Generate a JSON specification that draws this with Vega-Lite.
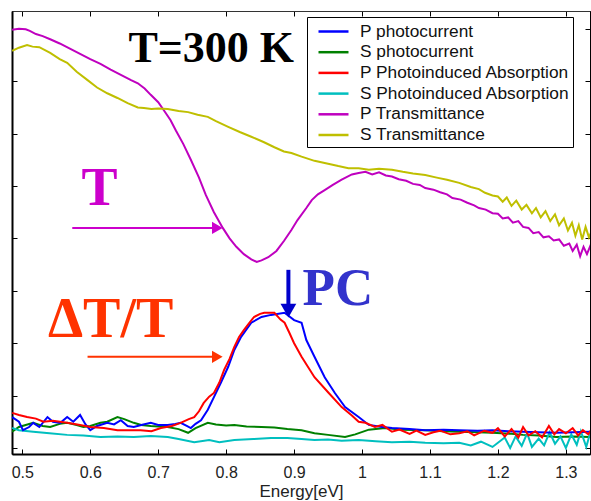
{
  "$schema": "https://vega.github.io/schema/vega-lite/v6.json",
  "width": 578,
  "height": 443,
  "autosize": {"type": "none"},
  "padding": {"left": 12, "top": 11, "right": 1, "bottom": 47},
  "background": "white",
  "config": {
    "font": "Liberation Sans",
    "view": {"stroke": "black", "strokeWidth": 1}
  },
  "datasets": {
    "curves": [
      {"s":"P Transmittance","E":0.485,"y":7.98},{"s":"P Transmittance","E":0.495,"y":8.0},{"s":"P Transmittance","E":0.505,"y":7.99},{"s":"P Transmittance","E":0.511,"y":7.96},{"s":"P Transmittance","E":0.52,"y":7.9},{"s":"P Transmittance","E":0.53,"y":7.86},{"s":"P Transmittance","E":0.541,"y":7.8},{"s":"P Transmittance","E":0.555,"y":7.72},{"s":"P Transmittance","E":0.57,"y":7.62},{"s":"P Transmittance","E":0.585,"y":7.52},{"s":"P Transmittance","E":0.6,"y":7.42},{"s":"P Transmittance","E":0.615,"y":7.33},{"s":"P Transmittance","E":0.63,"y":7.22},{"s":"P Transmittance","E":0.645,"y":7.12},{"s":"P Transmittance","E":0.66,"y":7.02},{"s":"P Transmittance","E":0.67,"y":6.96},{"s":"P Transmittance","E":0.68,"y":6.86},{"s":"P Transmittance","E":0.689,"y":6.74},{"s":"P Transmittance","E":0.7,"y":6.6},{"s":"P Transmittance","E":0.708,"y":6.45},{"s":"P Transmittance","E":0.718,"y":6.26},{"s":"P Transmittance","E":0.726,"y":6.06},{"s":"P Transmittance","E":0.737,"y":5.8},{"s":"P Transmittance","E":0.748,"y":5.5},{"s":"P Transmittance","E":0.76,"y":5.16},{"s":"P Transmittance","E":0.77,"y":4.83},{"s":"P Transmittance","E":0.782,"y":4.5},{"s":"P Transmittance","E":0.795,"y":4.2},{"s":"P Transmittance","E":0.805,"y":4.0},{"s":"P Transmittance","E":0.815,"y":3.84},{"s":"P Transmittance","E":0.826,"y":3.7},{"s":"P Transmittance","E":0.837,"y":3.6},{"s":"P Transmittance","E":0.845,"y":3.55},{"s":"P Transmittance","E":0.852,"y":3.58},{"s":"P Transmittance","E":0.862,"y":3.64},{"s":"P Transmittance","E":0.874,"y":3.76},{"s":"P Transmittance","E":0.885,"y":3.95},{"s":"P Transmittance","E":0.896,"y":4.16},{"s":"P Transmittance","E":0.905,"y":4.35},{"s":"P Transmittance","E":0.918,"y":4.58},{"s":"P Transmittance","E":0.926,"y":4.73},{"s":"P Transmittance","E":0.935,"y":4.84},{"s":"P Transmittance","E":0.945,"y":4.92},{"s":"P Transmittance","E":0.957,"y":5.02},{"s":"P Transmittance","E":0.97,"y":5.12},{"s":"P Transmittance","E":0.985,"y":5.22},{"s":"P Transmittance","E":0.995,"y":5.25},{"s":"P Transmittance","E":1.005,"y":5.27},{"s":"P Transmittance","E":1.015,"y":5.22},{"s":"P Transmittance","E":1.025,"y":5.26},{"s":"P Transmittance","E":1.035,"y":5.2},{"s":"P Transmittance","E":1.044,"y":5.18},{"s":"P Transmittance","E":1.054,"y":5.13},{"s":"P Transmittance","E":1.065,"y":5.1},{"s":"P Transmittance","E":1.075,"y":5.04},{"s":"P Transmittance","E":1.085,"y":5.02},{"s":"P Transmittance","E":1.093,"y":4.96},{"s":"P Transmittance","E":1.105,"y":4.93},{"s":"P Transmittance","E":1.115,"y":4.88},{"s":"P Transmittance","E":1.125,"y":4.84},{"s":"P Transmittance","E":1.133,"y":4.77},{"s":"P Transmittance","E":1.145,"y":4.74},{"s":"P Transmittance","E":1.155,"y":4.68},{"s":"P Transmittance","E":1.165,"y":4.63},{"s":"P Transmittance","E":1.172,"y":4.58},{"s":"P Transmittance","E":1.182,"y":4.55},{"s":"P Transmittance","E":1.192,"y":4.48},{"s":"P Transmittance","E":1.2,"y":4.47},{"s":"P Transmittance","E":1.207,"y":4.38},{"s":"P Transmittance","E":1.215,"y":4.4},{"s":"P Transmittance","E":1.222,"y":4.3},{"s":"P Transmittance","E":1.23,"y":4.33},{"s":"P Transmittance","E":1.237,"y":4.22},{"s":"P Transmittance","E":1.245,"y":4.2},{"s":"P Transmittance","E":1.252,"y":4.1},{"s":"P Transmittance","E":1.26,"y":4.12},{"s":"P Transmittance","E":1.267,"y":4.02},{"s":"P Transmittance","E":1.275,"y":4.04},{"s":"P Transmittance","E":1.282,"y":3.96},{"s":"P Transmittance","E":1.29,"y":3.98},{"s":"P Transmittance","E":1.297,"y":3.86},{"s":"P Transmittance","E":1.305,"y":3.9},{"s":"P Transmittance","E":1.31,"y":3.76},{"s":"P Transmittance","E":1.316,"y":3.88},{"s":"P Transmittance","E":1.321,"y":3.66},{"s":"P Transmittance","E":1.326,"y":3.84},{"s":"P Transmittance","E":1.331,"y":3.7},{"s":"P Transmittance","E":1.336,"y":3.86},{"s":"P Transmittance","E":1.34,"y":3.74},

      {"s":"S Transmittance","E":0.485,"y":7.58},{"s":"S Transmittance","E":0.495,"y":7.64},{"s":"S Transmittance","E":0.507,"y":7.69},{"s":"S Transmittance","E":0.515,"y":7.66},{"s":"S Transmittance","E":0.525,"y":7.65},{"s":"S Transmittance","E":0.541,"y":7.54},{"s":"S Transmittance","E":0.555,"y":7.42},{"s":"S Transmittance","E":0.566,"y":7.35},{"s":"S Transmittance","E":0.58,"y":7.18},{"s":"S Transmittance","E":0.596,"y":7.02},{"s":"S Transmittance","E":0.61,"y":6.88},{"s":"S Transmittance","E":0.625,"y":6.77},{"s":"S Transmittance","E":0.64,"y":6.68},{"s":"S Transmittance","E":0.655,"y":6.58},{"s":"S Transmittance","E":0.67,"y":6.5},{"s":"S Transmittance","E":0.679,"y":6.49},{"s":"S Transmittance","E":0.69,"y":6.47},{"s":"S Transmittance","E":0.7,"y":6.48},{"s":"S Transmittance","E":0.714,"y":6.47},{"s":"S Transmittance","E":0.73,"y":6.43},{"s":"S Transmittance","E":0.744,"y":6.41},{"s":"S Transmittance","E":0.758,"y":6.36},{"s":"S Transmittance","E":0.773,"y":6.32},{"s":"S Transmittance","E":0.785,"y":6.24},{"s":"S Transmittance","E":0.803,"y":6.13},{"s":"S Transmittance","E":0.82,"y":6.03},{"s":"S Transmittance","E":0.837,"y":5.94},{"s":"S Transmittance","E":0.855,"y":5.84},{"s":"S Transmittance","E":0.871,"y":5.74},{"s":"S Transmittance","E":0.885,"y":5.66},{"s":"S Transmittance","E":0.896,"y":5.63},{"s":"S Transmittance","E":0.911,"y":5.56},{"s":"S Transmittance","E":0.93,"y":5.48},{"s":"S Transmittance","E":0.945,"y":5.44},{"s":"S Transmittance","E":0.965,"y":5.38},{"s":"S Transmittance","E":0.98,"y":5.34},{"s":"S Transmittance","E":0.995,"y":5.34},{"s":"S Transmittance","E":1.01,"y":5.31},{"s":"S Transmittance","E":1.025,"y":5.33},{"s":"S Transmittance","E":1.044,"y":5.31},{"s":"S Transmittance","E":1.06,"y":5.27},{"s":"S Transmittance","E":1.075,"y":5.24},{"s":"S Transmittance","E":1.093,"y":5.21},{"s":"S Transmittance","E":1.11,"y":5.16},{"s":"S Transmittance","E":1.125,"y":5.12},{"s":"S Transmittance","E":1.143,"y":5.06},{"s":"S Transmittance","E":1.16,"y":4.98},{"s":"S Transmittance","E":1.172,"y":4.94},{"s":"S Transmittance","E":1.181,"y":4.87},{"s":"S Transmittance","E":1.192,"y":4.82},{"s":"S Transmittance","E":1.2,"y":4.8},{"s":"S Transmittance","E":1.207,"y":4.7},{"s":"S Transmittance","E":1.213,"y":4.78},{"s":"S Transmittance","E":1.22,"y":4.62},{"s":"S Transmittance","E":1.227,"y":4.72},{"s":"S Transmittance","E":1.235,"y":4.55},{"s":"S Transmittance","E":1.242,"y":4.64},{"s":"S Transmittance","E":1.25,"y":4.48},{"s":"S Transmittance","E":1.256,"y":4.58},{"s":"S Transmittance","E":1.263,"y":4.4},{"s":"S Transmittance","E":1.27,"y":4.52},{"s":"S Transmittance","E":1.277,"y":4.33},{"s":"S Transmittance","E":1.284,"y":4.46},{"s":"S Transmittance","E":1.29,"y":4.25},{"s":"S Transmittance","E":1.297,"y":4.38},{"s":"S Transmittance","E":1.303,"y":4.15},{"s":"S Transmittance","E":1.309,"y":4.3},{"s":"S Transmittance","E":1.314,"y":4.05},{"s":"S Transmittance","E":1.319,"y":4.25},{"s":"S Transmittance","E":1.324,"y":3.98},{"s":"S Transmittance","E":1.329,"y":4.22},{"s":"S Transmittance","E":1.334,"y":4.02},{"s":"S Transmittance","E":1.34,"y":4.2},

      {"s":"S photocurrent","E":0.485,"y":0.31},{"s":"S photocurrent","E":0.495,"y":0.4},{"s":"S photocurrent","E":0.505,"y":0.44},{"s":"S photocurrent","E":0.516,"y":0.48},{"s":"S photocurrent","E":0.53,"y":0.42},{"s":"S photocurrent","E":0.541,"y":0.4},{"s":"S photocurrent","E":0.555,"y":0.46},{"s":"S photocurrent","E":0.566,"y":0.48},{"s":"S photocurrent","E":0.58,"y":0.44},{"s":"S photocurrent","E":0.59,"y":0.4},{"s":"S photocurrent","E":0.6,"y":0.42},{"s":"S photocurrent","E":0.615,"y":0.48},{"s":"S photocurrent","E":0.625,"y":0.5},{"s":"S photocurrent","E":0.64,"y":0.59},{"s":"S photocurrent","E":0.65,"y":0.55},{"s":"S photocurrent","E":0.664,"y":0.48},{"s":"S photocurrent","E":0.675,"y":0.44},{"s":"S photocurrent","E":0.689,"y":0.42},{"s":"S photocurrent","E":0.7,"y":0.41},{"s":"S photocurrent","E":0.714,"y":0.4},{"s":"S photocurrent","E":0.73,"y":0.36},{"s":"S photocurrent","E":0.744,"y":0.29},{"s":"S photocurrent","E":0.755,"y":0.38},{"s":"S photocurrent","E":0.773,"y":0.48},{"s":"S photocurrent","E":0.785,"y":0.45},{"s":"S photocurrent","E":0.8,"y":0.43},{"s":"S photocurrent","E":0.812,"y":0.44},{"s":"S photocurrent","E":0.83,"y":0.41},{"s":"S photocurrent","E":0.852,"y":0.4},{"s":"S photocurrent","E":0.871,"y":0.39},{"s":"S photocurrent","E":0.89,"y":0.36},{"s":"S photocurrent","E":0.911,"y":0.34},{"s":"S photocurrent","E":0.93,"y":0.28},{"s":"S photocurrent","E":0.95,"y":0.25},{"s":"S photocurrent","E":0.975,"y":0.21},{"s":"S photocurrent","E":0.99,"y":0.26},{"s":"S photocurrent","E":1.01,"y":0.35},{"s":"S photocurrent","E":1.034,"y":0.38},{"s":"S photocurrent","E":1.06,"y":0.35},{"s":"S photocurrent","E":1.093,"y":0.34},{"s":"S photocurrent","E":1.12,"y":0.32},{"s":"S photocurrent","E":1.143,"y":0.31},{"s":"S photocurrent","E":1.17,"y":0.3},{"s":"S photocurrent","E":1.192,"y":0.29},{"s":"S photocurrent","E":1.22,"y":0.27},{"s":"S photocurrent","E":1.237,"y":0.25},{"s":"S photocurrent","E":1.26,"y":0.24},{"s":"S photocurrent","E":1.286,"y":0.21},{"s":"S photocurrent","E":1.31,"y":0.22},{"s":"S photocurrent","E":1.3355,"y":0.21},

      {"s":"S Photoinduced Absorption","E":0.485,"y":0.38},{"s":"S Photoinduced Absorption","E":0.495,"y":0.34},{"s":"S Photoinduced Absorption","E":0.516,"y":0.31},{"s":"S Photoinduced Absorption","E":0.54,"y":0.28},{"s":"S Photoinduced Absorption","E":0.566,"y":0.25},{"s":"S Photoinduced Absorption","E":0.59,"y":0.24},{"s":"S Photoinduced Absorption","E":0.615,"y":0.21},{"s":"S Photoinduced Absorption","E":0.64,"y":0.22},{"s":"S Photoinduced Absorption","E":0.664,"y":0.21},{"s":"S Photoinduced Absorption","E":0.689,"y":0.23},{"s":"S Photoinduced Absorption","E":0.714,"y":0.21},{"s":"S Photoinduced Absorption","E":0.73,"y":0.17},{"s":"S Photoinduced Absorption","E":0.753,"y":0.11},{"s":"S Photoinduced Absorption","E":0.775,"y":0.15},{"s":"S Photoinduced Absorption","E":0.79,"y":0.11},{"s":"S Photoinduced Absorption","E":0.812,"y":0.15},{"s":"S Photoinduced Absorption","E":0.84,"y":0.17},{"s":"S Photoinduced Absorption","E":0.866,"y":0.19},{"s":"S Photoinduced Absorption","E":0.89,"y":0.19},{"s":"S Photoinduced Absorption","E":0.911,"y":0.17},{"s":"S Photoinduced Absorption","E":0.93,"y":0.15},{"s":"S Photoinduced Absorption","E":0.95,"y":0.16},{"s":"S Photoinduced Absorption","E":0.97,"y":0.14},{"s":"S Photoinduced Absorption","E":0.995,"y":0.15},{"s":"S Photoinduced Absorption","E":1.02,"y":0.13},{"s":"S Photoinduced Absorption","E":1.044,"y":0.11},{"s":"S Photoinduced Absorption","E":1.07,"y":0.12},{"s":"S Photoinduced Absorption","E":1.093,"y":0.1},{"s":"S Photoinduced Absorption","E":1.12,"y":0.09},{"s":"S Photoinduced Absorption","E":1.143,"y":0.1},{"s":"S Photoinduced Absorption","E":1.16,"y":0.05},{"s":"S Photoinduced Absorption","E":1.175,"y":0.12},{"s":"S Photoinduced Absorption","E":1.192,"y":0.02},{"s":"S Photoinduced Absorption","E":1.2,"y":0.1},{"s":"S Photoinduced Absorption","E":1.21,"y":0.2},{"s":"S Photoinduced Absorption","E":1.218,"y":0.0},{"s":"S Photoinduced Absorption","E":1.226,"y":0.22},{"s":"S Photoinduced Absorption","E":1.235,"y":0.04},{"s":"S Photoinduced Absorption","E":1.243,"y":0.28},{"s":"S Photoinduced Absorption","E":1.25,"y":0.02},{"s":"S Photoinduced Absorption","E":1.26,"y":0.18},{"s":"S Photoinduced Absorption","E":1.268,"y":0.05},{"s":"S Photoinduced Absorption","E":1.276,"y":0.3},{"s":"S Photoinduced Absorption","E":1.284,"y":0.08},{"s":"S Photoinduced Absorption","E":1.292,"y":0.22},{"s":"S Photoinduced Absorption","E":1.3,"y":0.0},{"s":"S Photoinduced Absorption","E":1.308,"y":0.26},{"s":"S Photoinduced Absorption","E":1.316,"y":0.06},{"s":"S Photoinduced Absorption","E":1.322,"y":0.32},{"s":"S Photoinduced Absorption","E":1.33,"y":0.02},{"s":"S Photoinduced Absorption","E":1.336,"y":0.3},{"s":"S Photoinduced Absorption","E":1.34,"y":0.14},

      {"s":"P photocurrent","E":0.485,"y":0.59},{"s":"P photocurrent","E":0.495,"y":0.5},{"s":"P photocurrent","E":0.501,"y":0.34},{"s":"P photocurrent","E":0.51,"y":0.4},{"s":"P photocurrent","E":0.516,"y":0.48},{"s":"P photocurrent","E":0.525,"y":0.4},{"s":"P photocurrent","E":0.537,"y":0.59},{"s":"P photocurrent","E":0.545,"y":0.5},{"s":"P photocurrent","E":0.556,"y":0.48},{"s":"P photocurrent","E":0.566,"y":0.59},{"s":"P photocurrent","E":0.575,"y":0.5},{"s":"P photocurrent","E":0.585,"y":0.63},{"s":"P photocurrent","E":0.593,"y":0.45},{"s":"P photocurrent","E":0.6,"y":0.34},{"s":"P photocurrent","E":0.61,"y":0.42},{"s":"P photocurrent","E":0.625,"y":0.48},{"s":"P photocurrent","E":0.635,"y":0.45},{"s":"P photocurrent","E":0.645,"y":0.53},{"s":"P photocurrent","E":0.655,"y":0.42},{"s":"P photocurrent","E":0.664,"y":0.4},{"s":"P photocurrent","E":0.675,"y":0.44},{"s":"P photocurrent","E":0.689,"y":0.48},{"s":"P photocurrent","E":0.7,"y":0.44},{"s":"P photocurrent","E":0.714,"y":0.44},{"s":"P photocurrent","E":0.725,"y":0.46},{"s":"P photocurrent","E":0.733,"y":0.48},{"s":"P photocurrent","E":0.742,"y":0.42},{"s":"P photocurrent","E":0.748,"y":0.38},{"s":"P photocurrent","E":0.755,"y":0.46},{"s":"P photocurrent","E":0.763,"y":0.53},{"s":"P photocurrent","E":0.773,"y":0.73},{"s":"P photocurrent","E":0.782,"y":0.97},{"s":"P photocurrent","E":0.792,"y":1.24},{"s":"P photocurrent","E":0.803,"y":1.55},{"s":"P photocurrent","E":0.812,"y":1.87},{"s":"P photocurrent","E":0.822,"y":2.12},{"s":"P photocurrent","E":0.837,"y":2.39},{"s":"P photocurrent","E":0.852,"y":2.5},{"s":"P photocurrent","E":0.866,"y":2.54},{"s":"P photocurrent","E":0.886,"y":2.58},{"s":"P photocurrent","E":0.9,"y":2.44},{"s":"P photocurrent","E":0.911,"y":2.39},{"s":"P photocurrent","E":0.918,"y":2.06},{"s":"P photocurrent","E":0.93,"y":1.74},{"s":"P photocurrent","E":0.945,"y":1.35},{"s":"P photocurrent","E":0.96,"y":1.05},{"s":"P photocurrent","E":0.975,"y":0.78},{"s":"P photocurrent","E":0.995,"y":0.59},{"s":"P photocurrent","E":1.01,"y":0.44},{"s":"P photocurrent","E":1.03,"y":0.4},{"s":"P photocurrent","E":1.044,"y":0.38},{"s":"P photocurrent","E":1.07,"y":0.36},{"s":"P photocurrent","E":1.093,"y":0.34},{"s":"P photocurrent","E":1.12,"y":0.35},{"s":"P photocurrent","E":1.143,"y":0.34},{"s":"P photocurrent","E":1.17,"y":0.33},{"s":"P photocurrent","E":1.192,"y":0.34},{"s":"P photocurrent","E":1.215,"y":0.32},{"s":"P photocurrent","E":1.237,"y":0.31},{"s":"P photocurrent","E":1.26,"y":0.3},{"s":"P photocurrent","E":1.286,"y":0.29},{"s":"P photocurrent","E":1.31,"y":0.3},{"s":"P photocurrent","E":1.3355,"y":0.31},

      {"s":"P Photoinduced Absorption","E":0.485,"y":0.67},{"s":"P Photoinduced Absorption","E":0.495,"y":0.63},{"s":"P Photoinduced Absorption","E":0.507,"y":0.59},{"s":"P Photoinduced Absorption","E":0.52,"y":0.56},{"s":"P Photoinduced Absorption","E":0.531,"y":0.5},{"s":"P Photoinduced Absorption","E":0.545,"y":0.52},{"s":"P Photoinduced Absorption","E":0.566,"y":0.48},{"s":"P Photoinduced Absorption","E":0.585,"y":0.44},{"s":"P Photoinduced Absorption","E":0.6,"y":0.4},{"s":"P Photoinduced Absorption","E":0.62,"y":0.38},{"s":"P Photoinduced Absorption","E":0.64,"y":0.34},{"s":"P Photoinduced Absorption","E":0.66,"y":0.34},{"s":"P Photoinduced Absorption","E":0.674,"y":0.34},{"s":"P Photoinduced Absorption","E":0.69,"y":0.32},{"s":"P Photoinduced Absorption","E":0.704,"y":0.38},{"s":"P Photoinduced Absorption","E":0.72,"y":0.42},{"s":"P Photoinduced Absorption","E":0.733,"y":0.48},{"s":"P Photoinduced Absorption","E":0.745,"y":0.55},{"s":"P Photoinduced Absorption","E":0.753,"y":0.59},{"s":"P Photoinduced Absorption","E":0.76,"y":0.7},{"s":"P Photoinduced Absorption","E":0.767,"y":0.86},{"s":"P Photoinduced Absorption","E":0.775,"y":0.98},{"s":"P Photoinduced Absorption","E":0.782,"y":1.05},{"s":"P Photoinduced Absorption","E":0.79,"y":1.25},{"s":"P Photoinduced Absorption","E":0.797,"y":1.49},{"s":"P Photoinduced Absorption","E":0.805,"y":1.7},{"s":"P Photoinduced Absorption","E":0.812,"y":1.93},{"s":"P Photoinduced Absorption","E":0.819,"y":2.12},{"s":"P Photoinduced Absorption","E":0.826,"y":2.25},{"s":"P Photoinduced Absorption","E":0.835,"y":2.4},{"s":"P Photoinduced Absorption","E":0.841,"y":2.5},{"s":"P Photoinduced Absorption","E":0.85,"y":2.56},{"s":"P Photoinduced Absorption","E":0.856,"y":2.58},{"s":"P Photoinduced Absorption","E":0.871,"y":2.58},{"s":"P Photoinduced Absorption","E":0.88,"y":2.45},{"s":"P Photoinduced Absorption","E":0.886,"y":2.39},{"s":"P Photoinduced Absorption","E":0.893,"y":2.2},{"s":"P Photoinduced Absorption","E":0.9,"y":2.0},{"s":"P Photoinduced Absorption","E":0.911,"y":1.74},{"s":"P Photoinduced Absorption","E":0.93,"y":1.35},{"s":"P Photoinduced Absorption","E":0.951,"y":1.05},{"s":"P Photoinduced Absorption","E":0.97,"y":0.78},{"s":"P Photoinduced Absorption","E":0.985,"y":0.62},{"s":"P Photoinduced Absorption","E":0.995,"y":0.5},{"s":"P Photoinduced Absorption","E":1.005,"y":0.48},{"s":"P Photoinduced Absorption","E":1.019,"y":0.4},{"s":"P Photoinduced Absorption","E":1.03,"y":0.44},{"s":"P Photoinduced Absorption","E":1.044,"y":0.31},{"s":"P Photoinduced Absorption","E":1.055,"y":0.35},{"s":"P Photoinduced Absorption","E":1.07,"y":0.27},{"s":"P Photoinduced Absorption","E":1.08,"y":0.33},{"s":"P Photoinduced Absorption","E":1.093,"y":0.25},{"s":"P Photoinduced Absorption","E":1.105,"y":0.3},{"s":"P Photoinduced Absorption","E":1.115,"y":0.33},{"s":"P Photoinduced Absorption","E":1.13,"y":0.26},{"s":"P Photoinduced Absorption","E":1.143,"y":0.28},{"s":"P Photoinduced Absorption","E":1.155,"y":0.32},{"s":"P Photoinduced Absorption","E":1.165,"y":0.24},{"s":"P Photoinduced Absorption","E":1.18,"y":0.33},{"s":"P Photoinduced Absorption","E":1.192,"y":0.29},{"s":"P Photoinduced Absorption","E":1.2,"y":0.38},{"s":"P Photoinduced Absorption","E":1.21,"y":0.22},{"s":"P Photoinduced Absorption","E":1.22,"y":0.36},{"s":"P Photoinduced Absorption","E":1.23,"y":0.2},{"s":"P Photoinduced Absorption","E":1.237,"y":0.4},{"s":"P Photoinduced Absorption","E":1.245,"y":0.24},{"s":"P Photoinduced Absorption","E":1.255,"y":0.32},{"s":"P Photoinduced Absorption","E":1.265,"y":0.2},{"s":"P Photoinduced Absorption","E":1.275,"y":0.42},{"s":"P Photoinduced Absorption","E":1.283,"y":0.26},{"s":"P Photoinduced Absorption","E":1.29,"y":0.36},{"s":"P Photoinduced Absorption","E":1.3,"y":0.28},{"s":"P Photoinduced Absorption","E":1.31,"y":0.38},{"s":"P Photoinduced Absorption","E":1.318,"y":0.24},{"s":"P Photoinduced Absorption","E":1.325,"y":0.34},{"s":"P Photoinduced Absorption","E":1.333,"y":0.26},{"s":"P Photoinduced Absorption","E":1.34,"y":0.4}
    ]
  },
  "resolve": {"axis": {"x": "independent", "y": "independent"}},
  "layer": [
    {
      "data": {"name": "curves"},
      "mark": {"type": "line", "strokeWidth": 2, "clip": true},
      "encoding": {
        "x": {"field": "E", "type": "quantitative",
          "scale": {"domain": [0.4848, 1.3355], "nice": false, "zero": false},
          "axis": {"orient": "bottom", "title": "Energy[eV]", "values": [0.5,0.6,0.7,0.8,0.9,1,1.1,1.2,1.3], "format": "~g",
            "grid": false, "domainColor": "black", "domainWidth": 2, "tickColor": "black", "tickSize": -5, "tickWidth": 1,
            "labelFont": "Liberation Sans", "labelFontSize": 16, "labelColor": "#222", "labelPadding": 15, "labelFlush": false, "labelOverlap": false,
            "titleFont": "Liberation Sans", "titleFontSize": 17, "titleFontWeight": "normal", "titleColor": "#222", "titlePadding": 3}},
        "y": {"field": "y", "type": "quantitative",
          "scale": {"domain": [-0.115, 8.34], "nice": false, "zero": false},
          "axis": {"orient": "left", "title": null, "values": [0,1,2,3,4,5,6,7,8], "labels": false, "grid": false,
            "domainColor": "black", "domainWidth": 2, "tickColor": "black", "tickSize": -5, "tickWidth": 1}},
        "color": {"field": "s", "type": "nominal",
          "scale": {"domain": ["P photocurrent","S photocurrent","P Photoinduced Absorption","S Photoinduced Absorption","P Transmittance","S Transmittance"],
                    "range": ["#0000ff","#008000","#ff0000","#00bfbf","#bf00bf","#bfbf00"]},
          "legend": {"orient": "none", "legendX": 295, "legendY": 6, "title": null, "symbolType": "M-1.5,0H1.5", "symbolSize": 400, "symbolStrokeWidth": 2.5, "symbolOffset": 12,
            "labelFont": "Liberation Sans", "labelFontSize": 17.3, "labelColor": "#111", "labelOffset": 15, "labelLimit": 400,
            "rowPadding": 0.7, "padding": 3, "strokeColor": "black", "fillColor": "white", "cornerRadius": 0}}
      }
    },
    {
      "data": {"values": [{"E": 0.778, "y": 7.37, "t": "T=300 K"}]},
      "mark": {"type": "text", "font": "Liberation Serif", "fontWeight": "bold", "fontSize": 44, "color": "black", "align": "center", "baseline": "alphabetic"},
      "encoding": {
        "x": {"field": "E", "type": "quantitative", "scale": {"domain": [0.4848, 1.3355], "nice": false, "zero": false},
          "axis": {"orient": "top", "title": null, "values": [0.5,0.6,0.7,0.8,0.9,1,1.1,1.2,1.3], "labels": false, "grid": false,
            "domainColor": "#333", "domainWidth": 1, "tickColor": "black", "tickSize": -5, "tickWidth": 1}},
        "y": {"field": "y", "type": "quantitative", "scale": {"domain": [-0.115, 8.34], "nice": false, "zero": false},
          "axis": {"orient": "right", "title": null, "values": [0,1,2,3,4,5,6,7,8], "labels": false, "grid": false,
            "domainColor": "black", "domainWidth": 1, "tickColor": "black", "tickSize": -5, "tickWidth": 1}},
        "text": {"field": "t"}
      }
    },
    {
      "data": {"values": [{"E": 0.6136, "y": 4.64, "t": "T"}]},
      "mark": {"type": "text", "font": "Liberation Serif", "fontWeight": "bold", "fontSize": 54, "color": "#cc00cc", "align": "center", "baseline": "alphabetic"},
      "encoding": {
        "x": {"field": "E", "type": "quantitative", "scale": {"domain": [0.4848, 1.3355], "nice": false, "zero": false}, "axis": null},
        "y": {"field": "y", "type": "quantitative", "scale": {"domain": [-0.115, 8.34], "nice": false, "zero": false}, "axis": null},
        "text": {"field": "t"}
      }
    },
    {
      "data": {"values": [{"E": 0.630, "y": 2.12, "t": "ΔT/T"}]},
      "mark": {"type": "text", "font": "Liberation Serif", "fontWeight": "bold", "fontSize": 56, "color": "#ff3300", "align": "center", "baseline": "alphabetic"},
      "encoding": {
        "x": {"field": "E", "type": "quantitative", "scale": {"domain": [0.4848, 1.3355], "nice": false, "zero": false}, "axis": null},
        "y": {"field": "y", "type": "quantitative", "scale": {"domain": [-0.115, 8.34], "nice": false, "zero": false}, "axis": null},
        "text": {"field": "t"}
      }
    },
    {
      "data": {"values": [{"E": 0.9645, "y": 2.73, "t": "PC"}]},
      "mark": {"type": "text", "font": "Liberation Serif", "fontWeight": "bold", "fontSize": 53, "color": "#3333cc", "align": "center", "baseline": "alphabetic"},
      "encoding": {
        "x": {"field": "E", "type": "quantitative", "scale": {"domain": [0.4848, 1.3355], "nice": false, "zero": false}, "axis": null},
        "y": {"field": "y", "type": "quantitative", "scale": {"domain": [-0.115, 8.34], "nice": false, "zero": false}, "axis": null},
        "text": {"field": "t"}
      }
    },
    {
      "data": {"values": [{"E": 0.5735, "E2": 0.785, "y": 4.2}]},
      "mark": {"type": "rule", "color": "#cc00cc", "strokeWidth": 2},
      "encoding": {
        "x": {"field": "E", "type": "quantitative", "scale": {"domain": [0.4848, 1.3355], "nice": false, "zero": false}, "axis": null},
        "x2": {"field": "E2"},
        "y": {"field": "y", "type": "quantitative", "scale": {"domain": [-0.115, 8.34], "nice": false, "zero": false}, "axis": null}
      }
    },
    {
      "data": {"values": [{"E": 0.787, "y": 4.2}]},
      "mark": {"type": "point", "shape": "triangle-right", "filled": true, "color": "#cc00cc", "size": 150, "opacity": 1},
      "encoding": {
        "x": {"field": "E", "type": "quantitative", "scale": {"domain": [0.4848, 1.3355], "nice": false, "zero": false}, "axis": null},
        "y": {"field": "y", "type": "quantitative", "scale": {"domain": [-0.115, 8.34], "nice": false, "zero": false}, "axis": null}
      }
    },
    {
      "data": {"values": [{"E": 0.596, "E2": 0.785, "y": 1.74}]},
      "mark": {"type": "rule", "color": "#ff3300", "strokeWidth": 2},
      "encoding": {
        "x": {"field": "E", "type": "quantitative", "scale": {"domain": [0.4848, 1.3355], "nice": false, "zero": false}, "axis": null},
        "x2": {"field": "E2"},
        "y": {"field": "y", "type": "quantitative", "scale": {"domain": [-0.115, 8.34], "nice": false, "zero": false}, "axis": null}
      }
    },
    {
      "data": {"values": [{"E": 0.787, "y": 1.74}]},
      "mark": {"type": "point", "shape": "triangle-right", "filled": true, "color": "#ff3300", "size": 150, "opacity": 1},
      "encoding": {
        "x": {"field": "E", "type": "quantitative", "scale": {"domain": [0.4848, 1.3355], "nice": false, "zero": false}, "axis": null},
        "y": {"field": "y", "type": "quantitative", "scale": {"domain": [-0.115, 8.34], "nice": false, "zero": false}, "axis": null}
      }
    },
    {
      "data": {"values": [{"E": 0.8916, "y": 3.4, "y2": 2.7}]},
      "mark": {"type": "rule", "color": "#0000cc", "strokeWidth": 4},
      "encoding": {
        "x": {"field": "E", "type": "quantitative", "scale": {"domain": [0.4848, 1.3355], "nice": false, "zero": false}, "axis": null},
        "y": {"field": "y", "type": "quantitative", "scale": {"domain": [-0.115, 8.34], "nice": false, "zero": false}, "axis": null},
        "y2": {"field": "y2"}
      }
    },
    {
      "data": {"values": [{"E": 0.8916, "y": 2.62}]},
      "mark": {"type": "point", "shape": "triangle-down", "filled": true, "color": "#0000cc", "size": 250, "opacity": 1},
      "encoding": {
        "x": {"field": "E", "type": "quantitative", "scale": {"domain": [0.4848, 1.3355], "nice": false, "zero": false}, "axis": null},
        "y": {"field": "y", "type": "quantitative", "scale": {"domain": [-0.115, 8.34], "nice": false, "zero": false}, "axis": null}
      }
    }
  ]
}
